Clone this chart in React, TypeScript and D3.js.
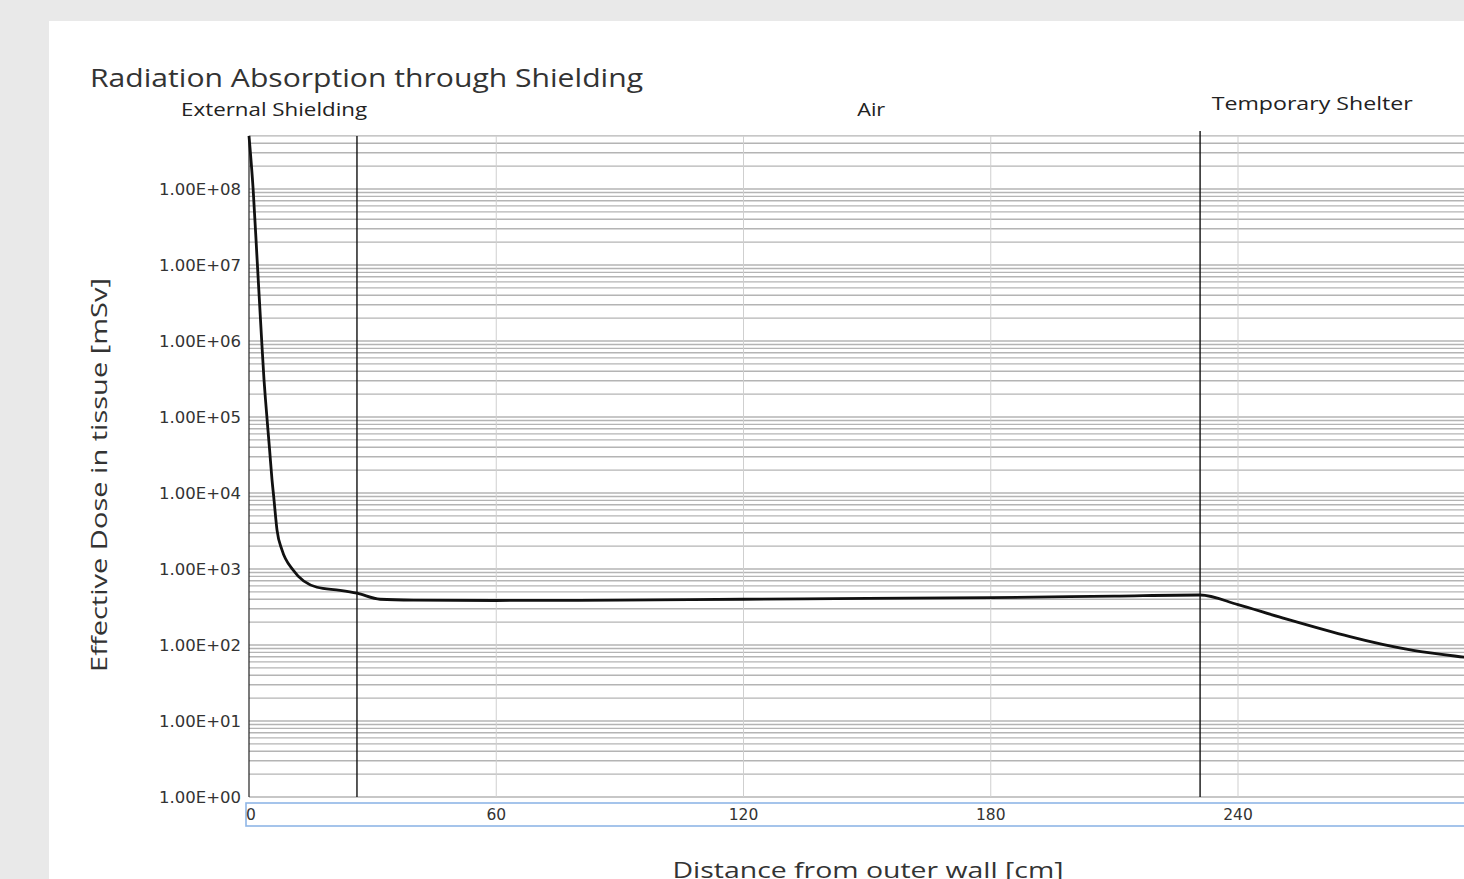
import React from 'react';
import * as d3 from 'd3';

// distance from the outer wall [cm] and the effective dose [mSv]
const distanceCm = [0, 1, 2, 3, 3.64, 4, 5, 5.58, 6, 6.8, 8, 10.7, 16.5, 22.1, 26.2, 31.8, 40, 60, 90, 120, 150, 180, 210, 230.8, 240, 250, 282.5, 295, 300];
const doseMSv = [5e8, 1e8, 1.1e7, 1.2e6, 3.1e5, 1.7e5, 3.7e4, 1.5e4, 8900, 3250, 1780, 970, 575, 525, 480, 400, 390, 385, 390, 400, 410, 420, 440, 455, 340, 234, 85, 69, 64];

// layer boundaries [cm]
const boundaries = [26.2, 230.8];
const regionNames = ['External Shielding', 'Air', 'Temporary Shelter'];
const regionLabelAt = [6.1, 151, 258];

const xTicks = [0, 60, 120, 180, 240];
const yDecades = [1, 10, 100, 1e3, 1e4, 1e5, 1e6, 1e7, 1e8];

const W = 1464;
const H = 879;
const sans = '"Open Sans", "Noto Sans", sans-serif';
const tickFont = '"DejaVu Sans", Verdana, sans-serif';

const x = d3.scaleLinear().domain([0, 300]).range([249, 1485.25]);
const y = d3.scaleLog().domain([1, 1e8]).range([797, 189]);
const yTop = y(5e8);

export default function App() {
    const line = d3.line<number>()
        .x((d, i) => x(distanceCm[i]))
        .y(d => y(d))
        .curve(d3.curveMonotoneX);

    // minor log grid: 1..9 x 10^n
    const gridVals: number[] = [];
    yDecades.forEach(dec => {
        for (let k = 1; k <= 9; k++) {
            const v = k * dec;
            if (v <= 5e8) gridVals.push(v);
        }
    });

    const fmt = (v: number) => {
        const e = Math.round(Math.log10(v));
        return '1.00E+' + (e < 10 ? '0' + e : '' + e);
    };

    return (
        <div style={{ position: 'fixed', left: 0, top: 0, width: W, height: H, overflow: 'hidden' }}>
            <svg width={W} height={H} style={{ display: 'block' }}>
                <rect x={0} y={0} width={W} height={H} fill="#e9e9e9" />
                <rect x={49} y={21} width={W - 49} height={H - 21} fill="#ffffff" />

                <text x={90} y={87} fontFamily={sans} fontSize={26} fill="#333"
                    textLength={553} lengthAdjust="spacingAndGlyphs">
                    Radiation Absorption through Shielding
                </text>

                {/* horizontal log grid */}
                {gridVals.map((v, i) => (
                    <line key={'g' + i} x1={x(0)} x2={x(300)} y1={y(v)} y2={y(v)}
                        stroke="#b4b4b4" strokeWidth={1.4} />
                ))}

                {/* vertical grid */}
                {xTicks.filter(t => t > 0).map(t => (
                    <line key={'v' + t} x1={x(t)} x2={x(t)} y1={yTop} y2={y(1)}
                        stroke="#cfcfcf" strokeWidth={1} />
                ))}

                {/* layer boundaries */}
                <line x1={x(boundaries[0])} x2={x(boundaries[0])} y1={yTop} y2={y(1)} stroke="#111" strokeWidth={1.4} />
                <line x1={x(boundaries[1])} x2={x(boundaries[1])} y1={yTop - 5} y2={y(1)} stroke="#111" strokeWidth={1.4} />

                {/* y axis line */}
                <line x1={x(0)} x2={x(0)} y1={yTop} y2={y(1)} stroke="#222" strokeWidth={1.2} />

                {regionNames.map((name, i) => (
                    <text key={name} x={x(regionLabelAt[i])} y={i === 2 ? 110 : 116}
                        textAnchor="middle" fontFamily={sans} fontSize={18} fill="#222"
                        textLength={[186, 28, 201][i]} lengthAdjust="spacingAndGlyphs">
                        {name}
                    </text>
                ))}

                {/* y tick labels */}
                {yDecades.map(v => (
                    <text key={'yl' + v} x={241} y={y(v)} dy="0.35em" textAnchor="end"
                        fontFamily={tickFont} fontSize={16.5} fill="#333">
                        {fmt(v)}
                    </text>
                ))}

                {/* x axis band */}
                <rect x={246} y={803} width={W} height={23} fill="#fff" stroke="#8fb6e6" strokeWidth={1.6} />
                {xTicks.map(t => (
                    <text key={'xl' + t} x={t === 0 ? x(t) - 3 : x(t)} y={820}
                        textAnchor={t === 0 ? 'start' : 'middle'}
                        fontFamily={tickFont} fontSize={15.5} fill="#333">
                        {t}
                    </text>
                ))}

                {/* dose curve */}
                <path d={line(doseMSv) || ''} fill="none" stroke="#111" strokeWidth={2.8} strokeLinejoin="round" />

                <text transform={`translate(107,475) rotate(-90)`} textAnchor="middle"
                    fontFamily={sans} fontSize={22} fill="#333"
                    textLength={394} lengthAdjust="spacingAndGlyphs">
                    Effective Dose in tissue [mSv]
                </text>
                <text x={868} y={878} textAnchor="middle" fontFamily={sans} fontSize={22} fill="#333"
                    textLength={391} lengthAdjust="spacingAndGlyphs">
                    Distance from outer wall [cm]
                </text>
            </svg>
        </div>
    );
}
